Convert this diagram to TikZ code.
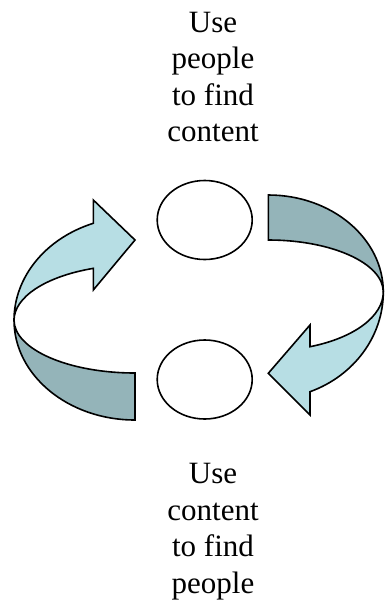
\documentclass[tikz,border=0pt]{standalone}
\usepackage{fontspec}
\setmainfont{Liberation Serif}
\usetikzlibrary{shapes.geometric}
\definecolor{frontface}{RGB}{183,222,228}
\definecolor{backface}{RGB}{148,180,185}
\begin{document}
\begin{tikzpicture}[x=1pt,y=1pt,
  outline/.style={draw=black, line width=1.6pt},
  bubble/.style={ellipse, draw=black, line width=1.6pt, minimum width=95pt,
    minimum height=79pt, inner sep=0pt},
  caption/.style={font=\fontsize{31}{36.5}\selectfont, inner sep=0pt, anchor=base}]
\useasboundingbox (0,0) rectangle (384,-603);

% the two stages
\node[bubble] (upper) at (204.7,-220) {};
\node[bubble] (lower) at (204.7,-379.5) {};

% captions
\node[caption] (uppertext) at (213,-32)
  {\begin{tabular}[t]{@{}c@{}}Use\\people\\to find\\content\end{tabular}};
\node[caption] (lowertext) at (213,-483.5)
  {\begin{tabular}[t]{@{}c@{}}Use\\content\\to find\\people\end{tabular}};

% left curved arrow: back face (lower half), then front face with head
\draw[outline, fill=backface] (14,-320)
  arc[start angle=180, end angle=270, x radius=121pt, y radius=100pt]
  -- (135,-373)
  arc[start angle=270, end angle=180, x radius=121pt, y radius=53pt]
  -- cycle;
\draw[outline, fill=frontface] (135,-240) -- (93.3,-200) -- (93.3,-223.3)
  arc[start angle=110.16, end angle=180, x radius=121pt, y radius=103.4pt]
  arc[start angle=180, end angle=110.16, x radius=121pt, y radius=55.4pt]
  -- (93.3,-290) -- cycle;

% right curved arrow: back face (upper half), then front face with head
\draw[outline, fill=backface] (268.3,-195)
  arc[start angle=90, end angle=0, x radius=115pt, y radius=97pt]
  arc[start angle=0, end angle=90, x radius=115pt, y radius=52pt]
  -- cycle;
\draw[outline, fill=frontface] (383.3,-292)
  arc[start angle=0, end angle=-68.74, x radius=115pt, y radius=107pt]
  -- (310,-415) -- (268.3,-373.3) -- (310,-325) -- (310,-346.7)
  arc[start angle=-68.74, end angle=0, x radius=115pt, y radius=58.7pt]
  -- cycle;
\end{tikzpicture}
\end{document}
